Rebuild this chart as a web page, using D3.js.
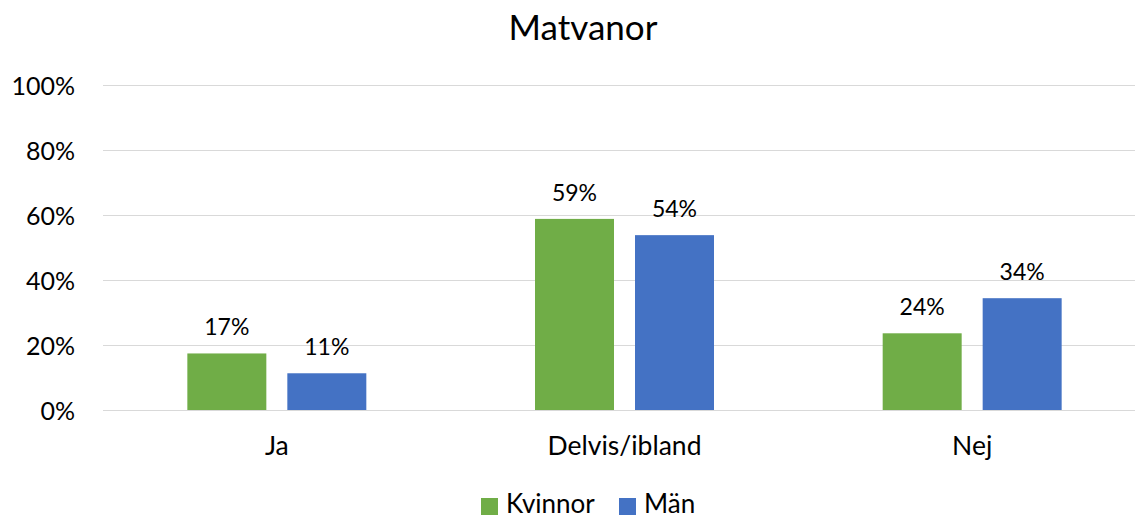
<!DOCTYPE html>
<meta charset="utf-8">
<style>
  body { margin: 0; background: #fff; }
  svg text { font-family: Lato, "Open Sans", sans-serif; fill: #000; }
  .grid line { stroke: #d9d9d9; stroke-width: 1.5; shape-rendering: crispEdges; }
</style>
<body>
<svg class="chart"></svg>
<script src="https://cdn.jsdelivr.net/npm/d3@7"></script>
<script>

// Data
var categories = ["Ja", "Delvis/ibland", "Nej"];
var series = ["Kvinnor", "Män"];
var kvinnor = [17.4, 58.8, 23.6];
var man = [11.3, 53.8, 34.4];
var yTicks = [0, 20, 40, 60, 80, 100];
var colors = ["#70ad47", "#4472c4"];

var width = 1135, height = 518;

var svg = d3.select(".chart")
    .attr("width", width)
    .attr("height", height);

// scales
var x0 = d3.scaleBand()
    .domain(categories)
    .range([103, 1146]);

var x1 = d3.scaleBand()
    .domain(series)
    .range([0, x0.bandwidth()])
    .paddingInner(0.21)
    .paddingOuter(0.8435);

var y = d3.scaleLinear()
    .domain([0, 100])
    .range([410, 85]);

var color = d3.scaleOrdinal().domain(series).range(colors);

// title
svg.append("text")
    .attr("x", 583)
    .attr("y", 40)
    .attr("text-anchor", "middle")
    .style("font-size", "35px")
    .text("Matvanor");

// gridlines
svg.append("g")
    .attr("class", "grid")
    .selectAll("line")
    .data(yTicks)
  .enter().append("line")
    .attr("x1", 103)
    .attr("x2", 1146)
    .attr("y1", function(d) { return Math.round(y(d)) + 0.5; })
    .attr("y2", function(d) { return Math.round(y(d)) + 0.5; });

// y axis labels (no axis line)
var yAxis = d3.axisLeft(y)
    .tickValues(yTicks)
    .tickSize(0)
    .tickPadding(0)
    .tickFormat(function(d) { return d + "%"; });

svg.append("g")
    .attr("transform", "translate(75,0)")
    .call(yAxis)
    .call(function(g) { g.select(".domain").remove(); })
    .selectAll("text")
    .style("font-family", "Lato, sans-serif")
    .style("font-size", "25px")
    .attr("dy", "0.36em");

// x axis labels
var xAxis = d3.axisBottom(x0).tickSize(0).tickPadding(0);
svg.append("g")
    .attr("transform", "translate(0,436)")
    .call(xAxis)
    .call(function(g) { g.select(".domain").remove(); })
    .selectAll("text")
    .style("font-family", "Lato, sans-serif")
    .style("font-size", "26.5px")
    .attr("dy", "0.71em");

// bars
var rows = categories.map(function(c, i) {
  return { cat: c, values: [
    { key: "Kvinnor", value: kvinnor[i] },
    { key: "Män", value: man[i] }
  ] };
});

var groups = svg.selectAll(".group")
    .data(rows)
  .enter().append("g")
    .attr("class", "group")
    .attr("transform", function(d) { return "translate(" + x0(d.cat) + ",0)"; });

groups.selectAll("rect")
    .data(function(d) { return d.values; })
  .enter().append("rect")
    .attr("x", function(d) { return x1(d.key); })
    .attr("width", x1.bandwidth())
    .attr("y", function(d) { return y(d.value); })
    .attr("height", function(d) { return y(0) - y(d.value); })
    .attr("fill", function(d) { return color(d.key); });

// data labels
groups.selectAll(".lbl")
    .data(function(d) { return d.values; })
  .enter().append("text")
    .attr("class", "lbl")
    .attr("x", function(d) { return x1(d.key) + x1.bandwidth() / 2; })
    .attr("y", function(d) { return y(d.value) - 18; })
    .attr("text-anchor", "middle")
    .style("font-size", "23px")
    .text(function(d) { return Math.round(d.value) + "%"; });

// legend
var legend = svg.append("g").attr("class", "legend");
var legendX = [481, 619];
series.forEach(function(s, i) {
  legend.append("rect")
      .attr("x", legendX[i])
      .attr("y", 498)
      .attr("width", 17)
      .attr("height", 17)
      .attr("fill", color(s));
  legend.append("text")
      .attr("x", legendX[i] + 25)
      .attr("y", 513)
      .style("font-size", "26px")
      .text(s);
});

</script>
</body>
